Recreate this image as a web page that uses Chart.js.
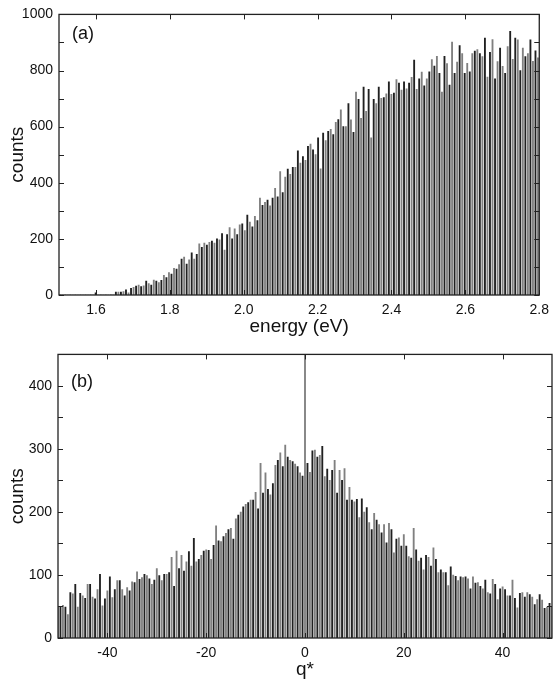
<!DOCTYPE html>
<html>
<head>
<meta charset="utf-8">
<script src="https://cdn.jsdelivr.net/npm/chart.js@4.4.0/dist/chart.umd.min.js"></script>
<style>
  body { margin: 0; background: #fff; }
  canvas { display: block; }
</style>
</head>
<body>
<canvas id="chart-a" width="556" height="340"></canvas>
<canvas id="chart-b" width="556" height="345"></canvas>
<script>
// (a) energy histogram: 190 equal bins between 1.5 and 2.8 eV
const energyRange = [1.5, 2.8];
const energyCounts = [
  0, 0, 0, 0, 0, 0, 0, 0, 0, 0, 0, 0, 0, 0, 8, 0, 0, 0, 0, 0, 0, 0,
  10, 10, 10, 12, 18, 8, 24, 27, 32, 35, 30, 33, 50, 41, 35, 53, 50, 44, 52, 70,
  62, 80, 75, 95, 92, 108, 128, 135, 110, 125, 150, 128, 145, 182, 170, 185, 178, 188, 192, 185,
  200,
  197, 219, 160, 215, 240, 200, 236, 215, 250, 254, 230, 285, 260, 243, 280, 265, 345, 320, 330, 338,
  318, 345, 380, 350, 440, 365, 420, 449, 430, 455, 455, 514, 470, 493, 480, 530, 538, 517, 500, 560,
  450, 577, 550, 583, 590, 572, 615, 625, 660, 600, 600, 682, 624, 580, 723, 697, 630, 741, 655, 733,
  560, 697, 682,
  741, 701, 704, 717, 760, 715, 720, 768, 755, 730, 760, 735, 755, 776, 837, 733, 770, 794, 745, 770,
  795, 839, 816, 851, 790, 723, 851, 825, 748, 901, 790, 830, 889, 860, 790, 826, 795, 860, 869, 875,
  860, 850, 916, 777, 865, 910, 770, 832, 880, 815, 790, 885, 940, 840, 916, 909, 800, 880, 850, 860,
  909, 833, 870, 845
];
const energyTicks = [1.6, 1.8, 2.0, 2.2, 2.4, 2.6, 2.8];
const countTicksA = [0, 100, 200, 300, 400, 500, 600, 700, 800, 900, 1000];

// (b) q* histogram: bins of 0.5 centred on -50 ... 50
const qRange = [-50, 50];
const qStep = 0.5;
const qCounts = [
  50, 50, 52, 49, 37, 72, 70, 85, 49, 71, 67, 63, 85, 85, 65, 62, 77, 101, 51, 62,
  75, 97, 64, 77, 91, 91, 77, 67, 80, 75, 89, 88, 105, 93, 96, 101, 99, 94, 85, 92,
  110, 99, 91, 101, 101, 104, 128, 82, 138, 110, 131, 106, 121, 137, 114, 158, 121, 125, 131, 138,
  140, 139, 125, 147, 178, 154,
  153, 161, 166, 172, 174, 157, 189, 195, 200, 208, 212, 215, 219, 219, 231, 205, 277, 230, 262, 236,
  227, 245, 274, 282, 294, 272, 306, 287, 282, 280, 276, 272, 262, 257, 470, 277, 263, 297, 298, 287,
  290, 304, 256, 268, 250, 266, 282, 230, 266, 250, 269, 219, 239, 219, 216, 220, 191, 221, 200, 207,
  183, 172, 198, 187, 180, 167, 180,
  151, 182, 172, 135, 157, 159, 146, 164, 146, 129, 127, 174, 140, 122, 127, 108, 131, 128, 114, 143,
  125, 104, 108, 104, 104, 83, 113, 100, 98, 91, 97, 96, 97, 94, 78, 97, 87, 88, 82, 78,
  92, 72, 70, 93, 85, 61, 78, 81, 77, 67, 67, 92, 63, 48, 71, 72, 65, 72, 69, 65,
  53, 61, 69, 60, 47, 49, 55, 50
];
const qTicks = [-40, -20, 0, 20, 40];
const countTicksB = [0, 50, 100, 150, 200, 250, 300, 350, 400, 450];

Chart.defaults.font.family = '"Liberation Sans", Arial, sans-serif';
Chart.defaults.color = '#111';

// boxed frame with inward ticks on all four sides, plus the panel letter
const framePlugin = {
  id: 'frame',
  afterDatasetsDraw(chart, args, opts) {
    const { ctx, chartArea: a, scales: { x, y } } = chart;
    ctx.save();
    ctx.strokeStyle = '#222';
    ctx.lineWidth = 1.3;
    ctx.strokeRect(a.left, a.top, a.right - a.left, a.bottom - a.top);
    ctx.beginPath();
    y.ticks.forEach(t => {
      const py = Math.round(y.getPixelForValue(t.value)) + 0.5;
      ctx.moveTo(a.left, py); ctx.lineTo(a.left + 5, py);
      ctx.moveTo(a.right, py); ctx.lineTo(a.right - 5, py);
    });
    x.ticks.forEach(t => {
      const px = Math.round(x.getPixelForValue(t.value)) + 0.5;
      ctx.moveTo(px, a.bottom); ctx.lineTo(px, a.bottom - 5);
      ctx.moveTo(px, a.top); ctx.lineTo(px, a.top + 5);
    });
    ctx.lineWidth = 1;
    ctx.stroke();
    ctx.font = '18px "Liberation Sans", Arial, sans-serif';
    ctx.fillStyle = '#111';
    ctx.textBaseline = 'middle';
    ctx.fillText(opts.text, a.left + 13, a.top + opts.dy);
    ctx.restore();
  }
};

function histogram(id, cfg) {
  const points = cfg.counts.map((c, i) => ({ x: cfg.centre(i), y: c }));
  return new Chart(document.getElementById(id), {
    type: 'bar',
    data: {
      datasets: [{
        data: points,
        backgroundColor: points.map((p, i) => (i + cfg.shade) % 2 ? '#808080' : '#202020'),
        barThickness: 1.2,
        borderWidth: 0
      }]
    },
    options: {
      responsive: false,
      animation: false,
      layout: { padding: { top: cfg.padTop, right: cfg.padRight, left: 0, bottom: 0 } },
      plugins: {
        legend: { display: false },
        tooltip: { enabled: false },
        frame: { text: cfg.letter, dy: cfg.letterDy }
      },
      scales: {
        x: {
          type: 'linear',
          min: cfg.xRange[0],
          max: cfg.xRange[1],
          offset: false,
          grid: { display: false, drawTicks: false },
          border: { display: false },
          afterBuildTicks: s => { s.ticks = cfg.xTicks.map(v => ({ value: v })); },
          afterFit: s => { s.height = cfg.xHeight; },
          ticks: { padding: 7, font: { size: 14 }, maxRotation: 0, autoSkip: false, callback: cfg.xFormat },
          title: { display: true, text: cfg.xTitle, font: { size: 19 }, padding: { top: 0, bottom: cfg.titlePad } }
        },
        y: {
          min: 0,
          max: cfg.yMax,
          grid: { display: false, drawTicks: false },
          border: { display: false },
          afterBuildTicks: s => { s.ticks = cfg.yTicks.map(v => ({ value: v })); },
          afterFit: s => { s.width = cfg.yWidth; },
          ticks: { padding: 6, font: { size: 14 }, callback: v => (v % cfg.labelStep === 0 ? v : '') },
          title: { display: true, text: 'counts', font: { size: 19 }, padding: { top: 6, bottom: 0 } }
        }
      }
    },
    plugins: [framePlugin]
  });
}

const energyBin = (energyRange[1] - energyRange[0]) / energyCounts.length;

histogram('chart-a', {
  counts: energyCounts,
  centre: i => energyRange[0] + (i + 0.5) * energyBin,
  xRange: energyRange,
  xTicks: energyTicks,
  xFormat: v => v.toFixed(1),
  xTitle: 'energy (eV)',
  yMax: 1000,
  yTicks: countTicksA,
  labelStep: 200,
  letter: '(a)',
  letterDy: 20,
  padTop: 13,
  padRight: 10,
  xHeight: 45,
  yWidth: 59,
  titlePad: 2,
  shade: 0
});

histogram('chart-b', {
  counts: qCounts,
  centre: i => qRange[0] + i * qStep,
  xRange: qRange,
  xTicks: qTicks,
  xFormat: v => v,
  xTitle: 'q*',
  yMax: 450,
  yTicks: countTicksB,
  labelStep: 100,
  letter: '(b)',
  letterDy: 28,
  padTop: 14,
  padRight: 4,
  xHeight: 47,
  yWidth: 58,
  titlePad: 4,
  shade: 1
});
</script>
</body>
</html>
